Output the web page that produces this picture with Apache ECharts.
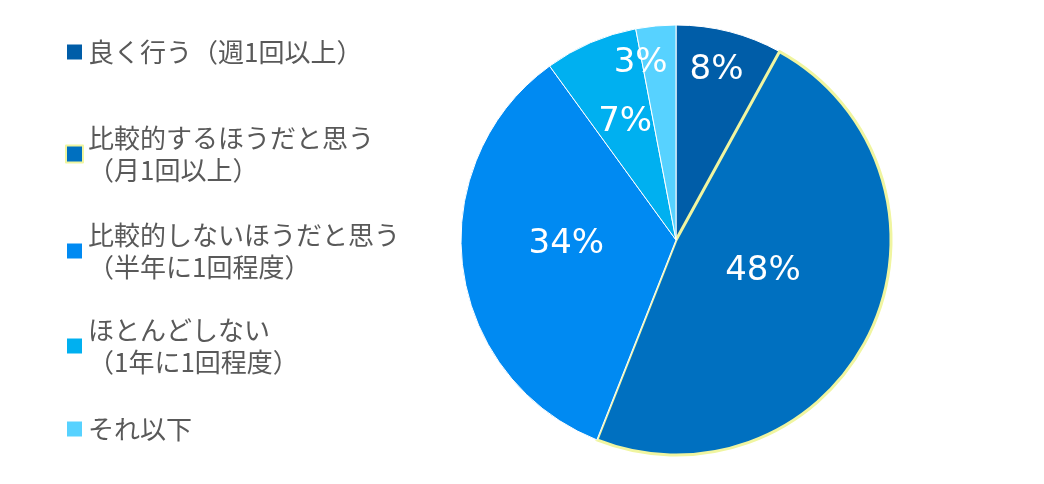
<!DOCTYPE html>
<html><head><meta charset="utf-8">
<script src="https://cdn.jsdelivr.net/npm/echarts@6/dist/echarts.min.js"></script>
<style>html,body{margin:0;background:#fff}#c{width:1044px;height:484px}</style>
</head><body><div id="c"></div>
<script>
var categories = ['良く行う（週1回以上）', '比較的するほうだと思う\n（月1回以上）', '比較的しないほうだと思う\n（半年に1回程度）', 'ほとんどしない\n（1年に1回程度）', 'それ以下'];
var values = [8, 48, 34, 7, 3];
var colors = ['#005DA8', '#0070C0', '#008AF2', '#00B0F0', '#57D2FF'];
var labelOffsets = [[13, -63], [-13, -16], [0, -10], [-7, -16], [-25, -67]];
var legendTops = [31, 117, 214, 309, 408];

var chart = echarts.init(document.getElementById('c'));
var legends = categories.map(function (name, i) {
    return {
        data: [name], left: 60, top: legendTops[i], orient: 'vertical',
        icon: 'rect', itemWidth: 17, itemHeight: 17, selectedMode: false,
        textStyle: { fontSize: 26, color: '#595959', lineHeight: 32, fontFamily: 'Noto Sans CJK JP' }
    };
});
chart.setOption({
    animation: false,
    color: colors,
    legend: legends,
    series: [{
        type: 'pie', center: [676, 240], radius: 215, startAngle: 90, clockwise: true,
        data: values.map(function (v, i) {
            var d = { name: categories[i], value: v, label: { offset: labelOffsets[i] } };
            if (i === 1) d.itemStyle = { borderColor: '#f0f5a0', borderWidth: 3 };
            return d;
        }),
        itemStyle: { borderColor: '#ffffff', borderWidth: 1 },
        label: { position: 'inside', color: '#fff', fontSize: 34, fontFamily: 'Verdana, DejaVu Sans',
                 formatter: function (p) { return p.value + '%'; } },
        labelLine: { show: false }
    }]
});
</script></body></html>
